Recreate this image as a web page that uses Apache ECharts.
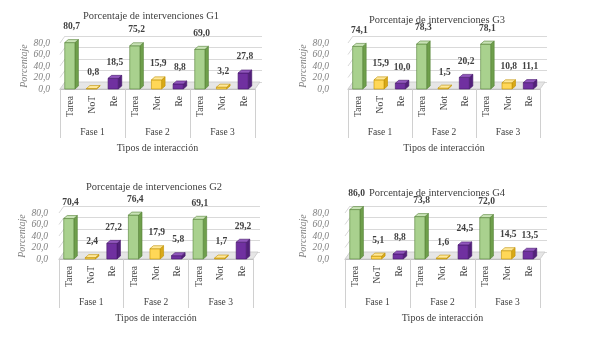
<!DOCTYPE html>
<html>
<head>
<meta charset="utf-8">
<script src="https://cdn.jsdelivr.net/npm/echarts@6/dist/echarts.min.js"></script>
<style>
  html, body { margin: 0; padding: 0; background: #fff; }
  #chart { width: 589px; height: 339px; }
</style>
</head>
<body>
<div id="chart"></div>
<script>
// Interaction types per phase (Fase 1..3)
const categories = ['Tarea', 'NoT', 'Re', 'Tarea', 'Not', 'Re', 'Tarea', 'Not', 'Re'];
const phases = ['Fase 1', 'Fase 2', 'Fase 3'];
const yTicks = [0, 20, 40, 60, 80];

// Percentage of interventions, one array per type, values for Fase 1..3
const g1Tarea = [80.7, 75.2, 69.0];
const g1NoT   = [0.8, 15.9, 3.2];
const g1Re    = [18.5, 8.8, 27.8];

const g2Tarea = [70.4, 76.4, 69.1];
const g2NoT   = [2.4, 17.9, 1.7];
const g2Re    = [27.2, 5.8, 29.2];

const g3Tarea = [74.1, 78.3, 78.1];
const g3NoT   = [15.9, 1.5, 10.8];
const g3Re    = [10.0, 20.2, 11.1];

const g4Tarea = [86.0, 73.8, 72.0];
const g4NoT   = [5.1, 1.6, 14.5];
const g4Re    = [8.8, 24.5, 13.5];

const FONT = '"Liberation Serif", "DejaVu Serif", serif';

// Panel layout: plot box (front face), label/name gaps
const panels = [
  { title: 'Porcentaje de intervenciones G1', tx: 146, ty: 6,   left: 60,  top: 43,  width: 195, labelMargin: 10, nameGap: 31,
    data: [g1Tarea, g1NoT, g1Re] },
  { title: 'Porcentaje de intervenciones G3', tx: 432, ty: 10,  left: 348, top: 43,  width: 192, labelMargin: 19, nameGap: 36,
    data: [g3Tarea, g3NoT, g3Re] },
  { title: 'Porcentaje de intervenciones G2', tx: 149, ty: 177, left: 59,  top: 213, width: 194, labelMargin: 11, nameGap: 30,
    data: [g2Tarea, g2NoT, g2Re] },
  { title: 'Porcentaje de intervenciones G4', tx: 432, ty: 183, left: 345, top: 213, width: 195, labelMargin: 16, nameGap: 33,
    data: [g4Tarea, g4NoT, g4Re] }
];

const PLOT_H = 46;       // pixel height of 0..80
const BACK_DX = 5, BACK_DY = 7;   // depth of the back wall
const BAR_DX = 3.5, BAR_DY = 3;   // depth of each bar

const palette = [
  { front: '#a9d18e', side: '#6f9f4c', top: '#c9e3b6', stroke: '#548235' },
  { front: '#ffd757', side: '#d9a918', top: '#ffe899', stroke: '#bf9000' },
  { front: '#7030a0', side: '#52207a', top: '#9157bd', stroke: '#44166a' }
];

function fmt(v) { return v.toFixed(1).replace('.', ','); }

function barRenderer(colorIdx) {
  const c = palette[colorIdx];
  return function (params, api) {
    const x = api.value(0), v = api.value(1);
    const base = api.coord([x, 0]);
    const topPt = api.coord([x, v]);
    const bw = api.size([1, 0])[0] * 0.47;
    const l = base[0] - bw / 2 - 1, r = l + bw;
    const yb = base[1], yt = topPt[1];
    return {
      type: 'group',
      children: [
        { type: 'polygon', shape: { points: [[r, yt], [r + BAR_DX, yt - BAR_DY], [r + BAR_DX, yb - BAR_DY], [r, yb]] },
          style: { fill: c.side, stroke: c.stroke, lineWidth: 0.6 } },
        { type: 'rect', shape: { x: l, y: yt, width: bw, height: Math.max(yb - yt, 0.5) },
          style: { fill: c.front, stroke: c.stroke, lineWidth: 0.6 } },
        { type: 'polygon', shape: { points: [[l, yt], [l + BAR_DX, yt - BAR_DY], [r + BAR_DX, yt - BAR_DY], [r, yt]] },
          style: { fill: c.top, stroke: c.stroke, lineWidth: 0.6 } },
        { type: 'text', style: { text: fmt(v), x: (l + r + BAR_DX) / 2, y: yt - 16, align: 'center', verticalAlign: 'middle',
          font: 'bold 9.5px ' + FONT, fill: '#404040' } }
      ]
    };
  };
}

// Floor slab and the left-wall edges of each gridline
function floorRenderer(params, api) {
  const half = api.size([1, 0])[0] / 2;
  const a = api.coord([0, 0]), b = api.coord([categories.length - 1, 0]);
  const l = a[0] - half, r = b[0] + half, y = a[1];
  const children = [{
    type: 'polygon',
    shape: { points: [[l, y], [r, y], [r + BACK_DX, y - BACK_DY], [l + BACK_DX, y - BACK_DY]] },
    style: { fill: '#e6e6e6', stroke: '#c8c8c8', lineWidth: 0.8 }
  }];
  yTicks.slice(1).forEach((t) => {
    const yy = api.coord([0, t])[1];
    children.push({
      type: 'line',
      shape: { x1: l, y1: yy, x2: l + BACK_DX, y2: yy - BACK_DY },
      style: { stroke: '#d9d9d9', lineWidth: 1 }
    });
  });
  return { type: 'group', children: children };
}

const option = {
  backgroundColor: '#ffffff',
  animation: false,
  title: [], grid: [], xAxis: [], yAxis: [], series: []
};

panels.forEach((p, i) => {
  const front = i * 2, back = i * 2 + 1;
  option.title.push({
    text: p.title, left: p.tx, top: p.ty, textAlign: 'center',
    textStyle: { fontFamily: FONT, fontSize: 10.5, fontWeight: 'normal', color: '#404040' }
  });
  option.grid.push({ left: p.left, top: p.top, width: p.width, height: PLOT_H, containLabel: false });
  option.grid.push({ left: p.left + BACK_DX, top: p.top - BACK_DY, width: p.width + 2, height: PLOT_H, containLabel: false });

  // front grid: category labels with group separators, and phase labels below
  option.xAxis.push({
    type: 'category', gridIndex: front, data: categories,
    axisLine: { show: true, lineStyle: { color: '#bfbfbf', width: 1 } },
    axisTick: { show: true, length: 49, interval: (idx) => idx % 3 === 0, lineStyle: { color: '#d0d0d0' } },
    axisLabel: { rotate: 90, margin: 7, fontFamily: FONT, fontSize: 9.5, color: '#404040', interval: 0 },
    splitLine: { show: false }
  });
  option.xAxis.push({
    type: 'category', gridIndex: front, data: phases, position: 'bottom', offset: 0,
    axisLine: { show: false }, axisTick: { show: false },
    axisLabel: { margin: 38, fontFamily: FONT, fontSize: 9.5, color: '#404040' },
    name: 'Tipos de interacción', nameLocation: 'middle', nameGap: 54,
    nameTextStyle: { fontFamily: FONT, fontSize: 10, color: '#404040' }
  });
  // back grid: the gridlines on the rear wall
  option.xAxis.push({
    type: 'category', gridIndex: back, data: categories, show: false
  });

  option.yAxis.push({
    type: 'value', gridIndex: front, min: yTicks[0], max: yTicks[yTicks.length - 1], interval: 20,
    axisLine: { show: false }, axisTick: { show: false }, splitLine: { show: false },
    axisLabel: { margin: p.labelMargin, fontFamily: FONT, fontStyle: 'italic', fontSize: 9.5, color: '#7f7f7f',
      formatter: (v) => fmt(v) },
    name: 'Porcentaje', nameLocation: 'middle', nameGap: p.nameGap, nameRotate: 90,
    nameTextStyle: { fontFamily: FONT, fontStyle: 'italic', fontSize: 10, color: '#7f7f7f' }
  });
  option.yAxis.push({
    type: 'value', gridIndex: back, min: yTicks[0], max: yTicks[yTicks.length - 1], interval: 20,
    axisLine: { show: false }, axisTick: { show: false }, axisLabel: { show: false },
    splitLine: { show: true, lineStyle: { color: '#d9d9d9', width: 1 } }
  });

  const xFront = i * 3;
  option.series.push({
    type: 'custom', xAxisIndex: xFront, yAxisIndex: front, clip: false, silent: true,
    renderItem: floorRenderer, data: [[0, 0]], z: 1
  });
  ['Tarea', 'NoT', 'Re'].forEach((name, k) => {
    option.series.push({
      type: 'custom', name: name, xAxisIndex: xFront, yAxisIndex: front, clip: false, z: 3,
      renderItem: barRenderer(k),
      data: p.data[k].map((v, j) => [j * 3 + k, v])
    });
  });
});

const chart = echarts.init(document.getElementById('chart'), null, { renderer: 'canvas' });
chart.setOption(option);
</script>
</body>
</html>
